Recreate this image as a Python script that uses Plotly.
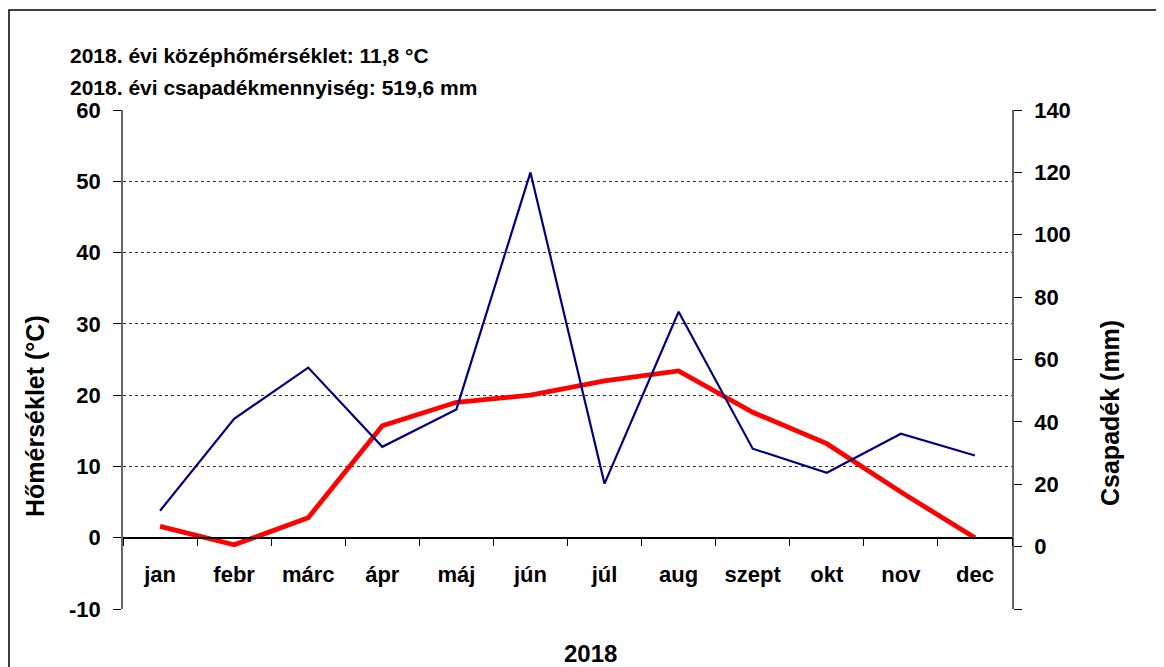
import plotly.graph_objects as go

months = ["jan", "febr", "márc", "ápr", "máj", "jún", "júl", "aug", "szept", "okt", "nov", "dec"]
temperature = [1.6, -1.0, 2.8, 15.7, 19.0, 20.0, 22.0, 23.4, 17.6, 13.2, 6.4, 0.0]
precipitation = [11.5, 41.0, 57.4, 32.0, 44.0, 120.0, 20.2, 75.3, 31.4, 23.7, 36.2, 29.2]
temp_tick_vals = [-10, 0, 10, 20, 30, 40, 50, 60]
temp_tick_text = ["-10", "0", "10", "20", "30", "40", "50", "60"]
prec_tick_vals = [-20, 0, 20, 40, 60, 80, 100, 120, 140]
prec_tick_text = ["", "0", "20", "40", "60", "80", "100", "120", "140"]
title_lines = ["2018. évi középhőmérséklet: 11,8 °C", "2018. évi csapadékmennyiség: 519,6 mm"]
y_title = "Hőmérséklet (°C)"
y2_title = "Csapadék (mm)"
year_label = "2018"

FONT = "Liberation Sans, Arial, sans-serif"
BOLD = dict(family=FONT, color="black", weight="bold")

fig = go.Figure()
fig.add_trace(go.Scatter(x=months, y=precipitation, mode="lines", yaxis="y2",
                         line=dict(color="#000080", width=2.2), name="Csapadék"))
fig.add_trace(go.Scatter(x=months, y=temperature, mode="lines", yaxis="y",
                         line=dict(color="#FF0000", width=4.8), name="Hőmérséklet"))

OFF = 8  # page body margin
W, H = 1164, 667
L, T = 123 - OFF, 110 - OFF
pw, ph = 889, 499
R, B = W - L - pw, H - T - ph


def px_x(p):
    return (p - OFF - L) / pw


def px_y(p):
    return (T + ph - (p - OFF)) / ph


fig.update_layout(
    width=W, height=H,
    margin=dict(l=L, r=R, t=T, b=B),
    paper_bgcolor="white", plot_bgcolor="white",
    showlegend=False,
    font=dict(family=FONT, size=22, color="black"),
    xaxis=dict(
        type="category", anchor="free", position=1 / 7,
        showline=True, linecolor="black", linewidth=1.5,
        ticks="outside", ticklen=8, tickcolor="black", tickwidth=1.2,
        tickson="boundaries", showgrid=False, ticklabelstandoff=17,
        tickfont=dict(BOLD, size=22),
        range=[-0.5, 11.5],
    ),
    yaxis=dict(
        range=[-10, 60], tickvals=temp_tick_vals, ticktext=temp_tick_text,
        showline=True, linecolor="#666666", linewidth=1.5,
        ticks="outside", ticklen=8, tickcolor="black",
        showgrid=True, gridcolor="#333333", griddash="dot", gridwidth=1,
        zeroline=False, ticklabelstandoff=8,
        tickfont=dict(BOLD, size=22),
    ),
    yaxis2=dict(
        range=[-20, 140], tickvals=prec_tick_vals, ticktext=prec_tick_text,
        overlaying="y", side="right",
        showline=True, linecolor="#666666", linewidth=1.5,
        ticks="outside", ticklen=8, tickcolor="black",
        showgrid=False, zeroline=False, ticklabelstandoff=8,
        tickfont=dict(BOLD, size=22),
    ),
    yaxis3=dict(
        range=[-20, 140], tickvals=prec_tick_vals, overlaying="y", side="right",
        showline=False, ticks="inside", ticklen=8, tickcolor="black",
        showgrid=False, zeroline=False, showticklabels=False,
    ),
)

fig.add_annotation(text=title_lines[0], xref="paper", yref="paper",
                   x=px_x(68), y=px_y(55), xanchor="left", yanchor="middle", showarrow=False,
                   font=dict(BOLD, size=21))
fig.add_annotation(text=title_lines[1], xref="paper", yref="paper",
                   x=px_x(68), y=px_y(87), xanchor="left", yanchor="middle", showarrow=False,
                   font=dict(BOLD, size=21))
fig.add_annotation(text=y_title, xref="paper", yref="paper", textangle=-90,
                   x=px_x(35), y=px_y(416), xanchor="center", yanchor="middle", showarrow=False,
                   font=dict(BOLD, size=25))
fig.add_annotation(text=y2_title, xref="paper", yref="paper", textangle=-90,
                   x=px_x(1110), y=px_y(413), xanchor="center", yanchor="middle", showarrow=False,
                   font=dict(BOLD, size=25))
fig.add_annotation(text=year_label, xref="paper", yref="paper",
                   x=px_x(590), y=px_y(653), xanchor="center", yanchor="middle", showarrow=False,
                   font=dict(BOLD, size=24))

fig.add_shape(type="rect", xref="paper", yref="paper",
              x0=px_x(9), x1=px_x(1200), y0=px_y(700), y1=px_y(10),
              line=dict(color="black", width=1.5), layer="below")

fig.write_html("out.html")
